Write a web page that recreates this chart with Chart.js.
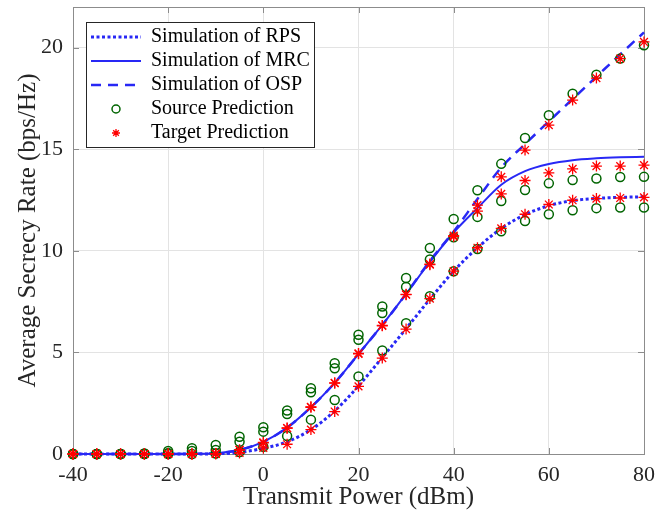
<!DOCTYPE html>
<html>
<head>
<meta charset="utf-8">
<title>Average Secrecy Rate</title>
<script src="https://cdn.jsdelivr.net/npm/chart.js@4.4.1/dist/chart.umd.min.js"></script>
<style>
  html, body { margin: 0; padding: 0; background: #fff; }
  #wrap { width: 671px; height: 523px; }
</style>
</head>
<body>
<div id="wrap"><canvas id="rateChart" width="671" height="523"></canvas></div>
<script>
// transmit power grid (dBm)
const power = [-40, -35, -30, -25, -20, -15, -10, -5, 0, 5, 10, 15, 20, 25, 30, 35, 40, 45, 50, 55, 60, 65, 70, 75, 80];

// simulated secrecy rate curves (bps/Hz)
const rpsSim = [0, 0, 0, 0, 0, 0, 0.01, 0.08, 0.28, 0.6, 1.2, 2.12, 3.35, 4.75, 6.17, 7.62, 9.0, 10.15, 11.1, 11.78, 12.22, 12.47, 12.58, 12.63, 12.66];
const mrcSim = [0, 0, 0, 0, 0, 0.01, 0.04, 0.2, 0.6, 1.3, 2.3, 3.5, 4.92, 6.35, 7.88, 9.45, 10.9, 12.1, 13.25, 13.92, 14.27, 14.46, 14.55, 14.6, 14.63];
const ospSim = [0, 0, 0, 0, 0, 0.01, 0.04, 0.2, 0.6, 1.3, 2.3, 3.5, 4.92, 6.35, 7.88, 9.5, 10.95, 12.55, 14.1, 15.25, 16.37, 17.47, 18.57, 19.67, 20.75];

// source-domain predictions
const rpsSource = [0, 0, 0, 0, 0, 0, 0.02, 0.1, 0.36, 0.89, 1.69, 2.66, 3.82, 5.09, 6.44, 7.76, 8.99, 10.09, 10.96, 11.47, 11.8, 12.0, 12.1, 12.13, 12.13];
const mrcSource = [0, 0, 0, 0.01, 0.05, 0.15, 0.2, 0.6, 1.1, 1.97, 3.04, 4.22, 5.62, 6.94, 8.22, 9.57, 10.67, 11.67, 12.45, 12.99, 13.32, 13.48, 13.56, 13.63, 13.64];
const ospSource = [0, 0, 0, 0.03, 0.15, 0.28, 0.44, 0.85, 1.32, 2.14, 3.24, 4.47, 5.87, 7.26, 8.66, 10.14, 11.57, 12.98, 14.28, 15.55, 16.67, 17.73, 18.67, 19.46, 20.12];

// target-domain predictions
const rpsTarget = [0, 0, 0, 0, 0, 0, 0, 0.05, 0.3, 0.48, 1.2, 2.09, 3.33, 4.72, 6.15, 7.65, 9.0, 10.15, 11.1, 11.8, 12.28, 12.49, 12.57, 12.6, 12.63];
const mrcTarget = [0, 0, 0, 0, 0, 0, 0.02, 0.2, 0.55, 1.27, 2.3, 3.49, 4.93, 6.31, 7.84, 9.32, 10.7, 11.95, 12.8, 13.46, 13.84, 14.03, 14.17, 14.17, 14.22];
const ospTarget = [0, 0, 0, 0, 0, 0, 0.02, 0.2, 0.57, 1.28, 2.32, 3.5, 4.95, 6.33, 7.86, 9.35, 10.75, 12.25, 13.64, 14.96, 16.19, 17.42, 18.5, 19.46, 20.28];

const serif = '"Liberation Serif", "Times New Roman", serif';
const blue = 'rgb(40, 40, 245)';
const green = 'rgb(0, 100, 0)';
const red = 'rgb(255, 0, 0)';
const axisColor = '#8c8c8c';
const textColor = '#262626';

const pts = (ys) => ys.map((y, i) => ({ x: power[i], y }));

const curve = (label, ys, dash, width) => ({
  label, data: pts(ys), borderColor: blue, backgroundColor: blue,
  borderWidth: width, borderDash: dash, pointRadius: 0, pointStyle: 'line',
  cubicInterpolationMode: 'monotone', clip: false, order: 3
});

const markers = (label, ys, style, color, inLegend) => ({
  label, data: pts(ys), showLine: false, pointStyle: style,
  pointRadius: style === 'star' ? 5.5 : 4.5, pointBorderWidth: style === 'star' ? 1.3 : 1.5,
  borderColor: color, pointBorderColor: color, pointBackgroundColor: 'rgba(0,0,0,0)',
  backgroundColor: 'rgba(0,0,0,0)', clip: false, legendEntry: inLegend,
  order: style === 'star' ? 1 : 2
});

// small marker picture for the legend, so the marker is not stretched to the line width
const legendIcon = (style, color, width) => {
  const c = document.createElement('canvas');
  c.width = 16; c.height = 16;
  const g = c.getContext('2d');
  g.strokeStyle = color;
  g.fillStyle = 'rgba(0,0,0,0)';
  g.lineWidth = width;
  Chart.helpers.drawPoint(g, { pointStyle: style, radius: 4, borderWidth: width, rotation: 0 }, 8, 8);
  return c;
};

// axes box with inward tick marks on all four sides
const axesBox = {
  id: 'axesBox',
  beforeDatasetsDraw(chart) {
    const { ctx, chartArea: a, scales: { x, y } } = chart;
    ctx.save();
    ctx.strokeStyle = axisColor;
    ctx.lineWidth = 1;
    ctx.strokeRect(Math.round(a.left) + 0.5, Math.round(a.top) + 0.5, Math.round(a.width), Math.round(a.height));
    ctx.beginPath();
    x.ticks.forEach((t) => {
      const px = Math.round(x.getPixelForValue(t.value)) + 0.5;
      ctx.moveTo(px, a.bottom); ctx.lineTo(px, a.bottom - 6);
      ctx.moveTo(px, a.top); ctx.lineTo(px, a.top + 6);
    });
    y.ticks.forEach((t) => {
      const py = Math.round(y.getPixelForValue(t.value)) + 0.5;
      ctx.moveTo(a.left, py); ctx.lineTo(a.left + 6, py);
      ctx.moveTo(a.right, py); ctx.lineTo(a.right - 6, py);
    });
    ctx.stroke();
    ctx.restore();
  }
};

// legend sits inside the plot, top left, with a white framed background
const legendFrame = {
  id: 'legendFrame',
  afterLayout(chart) {
    const lg = chart.legend;
    const a = chart.chartArea;
    lg.left = a.left + 14; lg.right = lg.left + lg.width;
    lg.top = a.top + 16; lg.bottom = lg.top + lg.height;
  },
  beforeDatasetsDraw(chart) {
    const { ctx, legend } = chart;
    const boxes = legend.legendHitBoxes;
    if (!boxes || !boxes.length) return;
    const x0 = Math.round(Math.min(...boxes.map((b) => b.left)) - 5);
    const y0 = Math.round(Math.min(...boxes.map((b) => b.top)) - 5);
    const x1 = Math.round(Math.max(...boxes.map((b) => b.left + b.width)) + 4);
    const y1 = Math.round(Math.max(...boxes.map((b) => b.top + b.height)) + 4);
    ctx.save();
    ctx.fillStyle = '#fff';
    ctx.fillRect(x0, y0, x1 - x0, y1 - y0);
    ctx.strokeStyle = textColor;
    ctx.lineWidth = 1;
    ctx.strokeRect(x0 + 0.5, y0 + 0.5, x1 - x0, y1 - y0);
    ctx.restore();
    legend.draw();
  }
};

// keep the plot area fixed: no extra room for overhanging tick labels
const noOverhang = (s) => {
  s.paddingLeft = 0; s.paddingRight = 0; s.paddingTop = 0; s.paddingBottom = 0;
};

new Chart(document.getElementById('rateChart'), {
  type: 'line',
  data: {
    datasets: [
      curve('Simulation of RPS', rpsSim, [3, 2.5], 3),
      curve('Simulation of MRC', mrcSim, [], 2),
      curve('Simulation of OSP', ospSim, [10, 7], 2.5),
      markers('Source Prediction', rpsSource, 'circle', green, true),
      markers('Source Prediction', mrcSource, 'circle', green, false),
      markers('Source Prediction', ospSource, 'circle', green, false),
      markers('Target Prediction', rpsTarget, 'star', red, true),
      markers('Target Prediction', mrcTarget, 'star', red, false),
      markers('Target Prediction', ospTarget, 'star', red, false)
    ]
  },
  options: {
    responsive: false,
    animation: false,
    devicePixelRatio: 1,
    layout: { padding: { top: 7, right: 27, left: 0, bottom: 0 } },
    plugins: {
      tooltip: { enabled: false },
      legend: {
        position: 'chartArea',
        align: 'start',
        labels: {
          usePointStyle: true,
          pointStyleWidth: 50,
          boxHeight: 6,
          padding: 4,
          color: '#000',
          font: { family: serif, size: 20 },
          generateLabels: (chart) => chart.data.datasets
            .map((ds, i) => ({ ds, i }))
            .filter(({ ds }) => ds.legendEntry !== false)
            .map(({ ds, i }) => ({
              text: ds.label,
              datasetIndex: i,
              fontColor: '#000',
              pointStyle: ds.showLine === false ? legendIcon(ds.pointStyle, ds.pointBorderColor, ds.pointBorderWidth) : 'line',
              strokeStyle: ds.borderColor,
              fillStyle: 'rgba(0,0,0,0)',
              lineWidth: ds.showLine === false ? ds.pointBorderWidth : ds.borderWidth,
              lineDash: ds.borderDash || []
            }))
        }
      }
    },
    scales: {
      x: {
        type: 'linear',
        min: -40,
        max: 80,
        afterFit: (s) => { s.height = 69; noOverhang(s); },
        ticks: { stepSize: 20, padding: 8, color: textColor, font: { family: serif, size: 22 } },
        grid: { color: '#e3e3e3', drawTicks: false },
        border: { display: false },
        title: {
          display: true, text: 'Transmit Power (dBm)', color: textColor,
          font: { family: serif, size: 25 }, padding: { top: 0, bottom: 11 }
        }
      },
      y: {
        type: 'linear',
        min: 0,
        max: 22,
        afterFit: (s) => { s.width = 73; noOverhang(s); },
        ticks: { stepSize: 5, includeBounds: false, padding: 10, color: textColor, font: { family: serif, size: 22 } },
        grid: { color: '#e3e3e3', drawTicks: false },
        border: { display: false },
        title: {
          display: true, text: 'Average Secrecy Rate (bps/Hz)', color: textColor,
          font: { family: serif, size: 25 }, padding: { top: 13, bottom: 0 }
        }
      }
    }
  },
  plugins: [axesBox, legendFrame]
});
</script>
</body>
</html>
